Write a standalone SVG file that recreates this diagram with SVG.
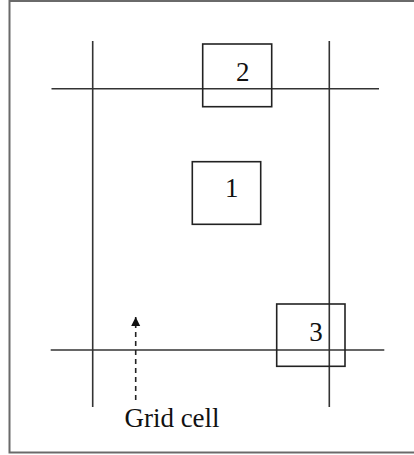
<svg xmlns="http://www.w3.org/2000/svg" width="414" height="455" viewBox="0 0 414 455">
<defs>
<style>
.frame{fill:none;stroke:#6a6a6a;stroke-width:2}
.grid{fill:none;stroke:#333;stroke-width:1.6}
.box{fill:none;stroke:#222;stroke-width:1.6}
.lbl{font-family:"Liberation Serif","Times New Roman",serif;font-size:27px;fill:#111;text-anchor:middle}
.arrow{fill:none;stroke:#222;stroke-width:1.6;stroke-dasharray:5,4}
</style>
<marker id="ah" markerWidth="10" markerHeight="10" refX="9" refY="5" orient="auto" markerUnits="userSpaceOnUse">
<path d="M0,0.5 L9,5 L0,9.5 Z" fill="#111"/>
</marker>
</defs>
<rect x="0" y="0" width="414" height="455" fill="#fff"/>
<rect class="frame" x="9.5" y="1" width="420" height="451.5"/>
<g id="connectors">
<line class="grid" x1="92.7" y1="41" x2="92.7" y2="407"/>
<line class="grid" x1="329.3" y1="41" x2="329.3" y2="407"/>
<line class="grid" x1="51.5" y1="88.7" x2="379" y2="88.7"/>
<line class="grid" x1="50.7" y1="350" x2="384.3" y2="350"/>
<line class="arrow" x1="135.7" y1="400" x2="135.7" y2="317" marker-end="url(#ah)"/>
</g>
<g id="node2">
<rect class="box" x="202.7" y="44" width="69" height="62.7"/>
<text class="lbl" x="242.7" y="80.5">2</text>
</g>
<g id="node1">
<rect class="box" x="192.3" y="161.7" width="68.4" height="62.6"/>
<text class="lbl" x="231.7" y="197">1</text>
</g>
<g id="node3">
<rect class="box" x="276.7" y="304" width="68.3" height="62.3"/>
<text class="lbl" x="316" y="340.5">3</text>
</g>
<g id="label">
<text class="lbl" x="172" y="427.3">Grid cell</text>
</g>
</svg>
